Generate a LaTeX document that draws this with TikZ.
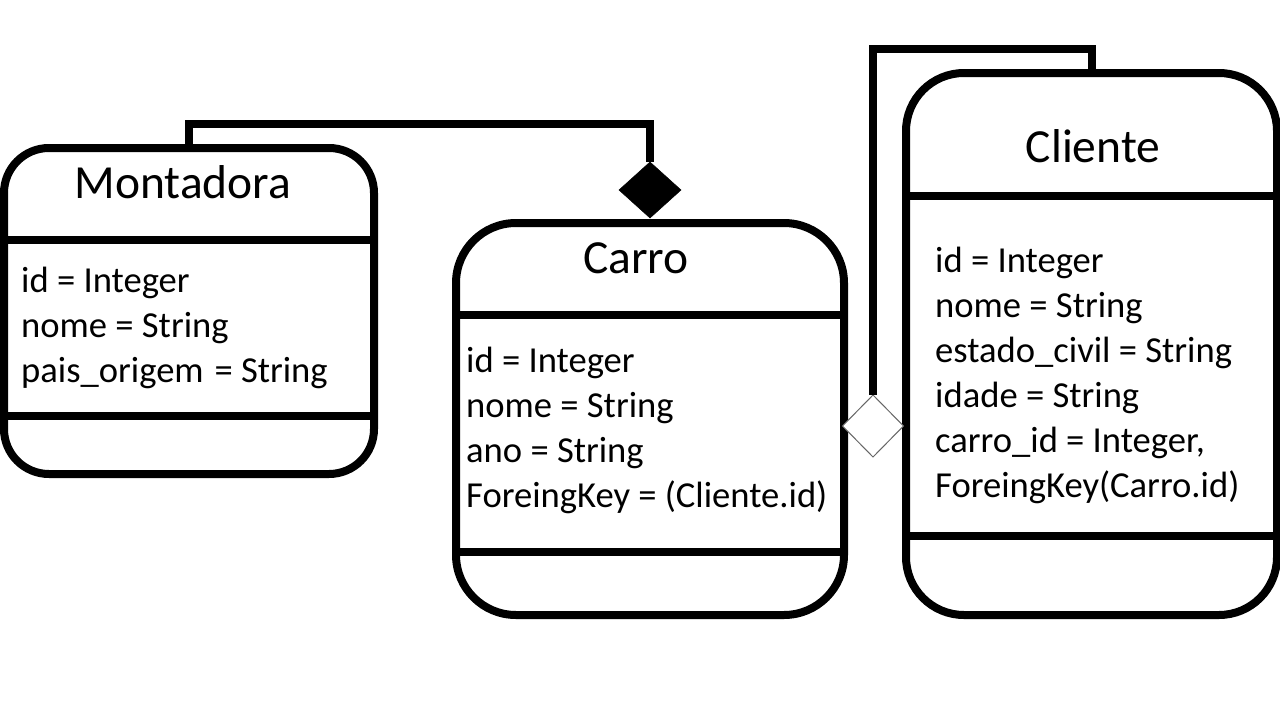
\documentclass[tikz,border=0pt]{standalone}
\usepackage{fontspec}
\setmainfont{Carlito}
\usetikzlibrary{shapes.geometric}
\begin{document}
\begin{tikzpicture}[x=1pt,y=-1pt,
  classbox/.style={draw=black, line width=8pt, rounded corners=#1, outer sep=0pt, inner sep=0pt, fill=white},
  divider/.style={line width=8pt},
  conn/.style={line width=8pt},
  titletext/.style={font=\fontsize{47.5}{56}\selectfont, anchor=base, inner sep=0pt},
  attr/.style={font=\fontsize{36.6}{45}\selectfont, anchor=base west, inner sep=0pt},
  compo/.style={diamond, fill=black, draw=black, line width=0.5pt, minimum width=62pt, minimum height=56pt, inner sep=0pt, outer sep=0pt},
  aggr/.style={diamond, fill=white, draw=black!60, line width=1pt, minimum width=61pt, minimum height=62pt, inner sep=0pt, outer sep=0pt}]
\fill[white] (0,0) rectangle (1280,720);
\useasboundingbox (0,0) rectangle (1280,720);

% class boxes
\node[classbox=45pt, minimum width=370pt, minimum height=326pt] (mon) at (189,311) {};
\node[classbox=60pt, minimum width=388pt, minimum height=392pt] (car) at (650,419) {};
\node[classbox=58pt, minimum width=371pt, minimum height=542pt] (cli) at (1091.5,344) {};

% dividers
\draw[divider] (mon.west |- 0,240) -- (mon.east |- 0,240);
\draw[divider] (mon.west |- 0,416) -- (mon.east |- 0,416);
\draw[divider] (car.west |- 0,315) -- (car.east |- 0,315);
\draw[divider] (car.west |- 0,552) -- (car.east |- 0,552);
\draw[divider] (cli.west |- 0,196) -- (cli.east |- 0,196);
\draw[divider] (cli.west |- 0,536) -- (cli.east |- 0,536);

% titles
\node[titletext] (montitle) at (183,198) {Montadora};
\node[titletext] (cartitle) at (636,273) {Carro};
\node[titletext] (clititle) at (1093,162) {Cliente};

% attributes
\foreach \t [count=\i] in {{id = Integer},{nome = String},{pais\_origem\hspace{0.07em} = String}}
  \node[attr] (monattr\i) at (21,{292+45*(\i-1)}) {\t};
\foreach \t [count=\i] in {{id = Integer},{nome = String},{ano = String},{ForeingKey = (Cliente.id)}}
  \node[attr] (carattr\i) at (466,{372+45*(\i-1)}) {\t};
\foreach \t [count=\i] in {{id = Integer},{nome = String},{estado\_civil = String},{idade = String},{carro\_id = Integer,},{ForeingKey(Carro.id)}}
  \node[attr] (cliattr\i) at (935,{272+45*(\i-1)}) {\t};

% diamonds
\node[compo] (comp) at (650,190) {};
\node[aggr] (agg) at (873,426) {};

% connectors
\draw[conn] (mon.north) -- (mon.north |- 0,124) -| (comp.north);
\draw[conn] (agg.north) -- (agg.north |- 0,49) -| (cli.north);
\end{tikzpicture}
\end{document}
